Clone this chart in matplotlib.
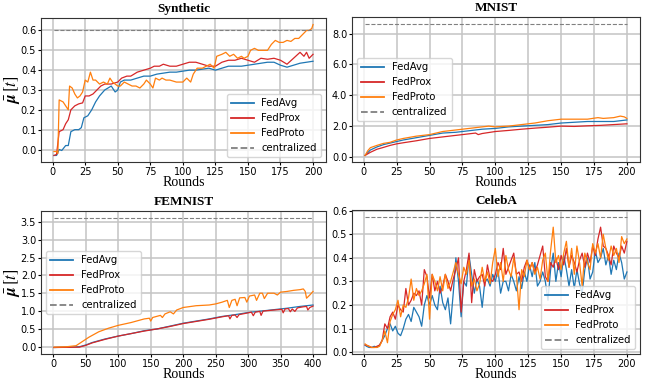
import numpy as np
import matplotlib
matplotlib.use("Agg")
import matplotlib.pyplot as plt

plt.rcParams["mathtext.fontset"] = "stix"

labels = ["FedAvg", "FedProx", "FedProto"]
colors = ["tab:blue", "tab:red", "tab:orange"]

# ---- Synthetic ----
syn_avg_x = [1, 3, 5, 7, 10, 12, 14, 17, 20, 22, 24, 27, 30, 33, 36, 40, 45, 48, 50, 52, 55, 60, 65, 70,
             75, 80, 85, 90, 95, 100, 105, 110, 115, 120, 125, 130, 135, 140, 145, 150, 155, 160, 165,
             170, 175, 180, 185, 190, 195, 200]
syn_avg_y = [-0.03, -0.03, 0.0, -0.005, 0.02, 0.02, 0.09, 0.1, 0.1, 0.11, 0.16, 0.17, 0.2, 0.24, 0.27,
             0.3, 0.32, 0.29, 0.3, 0.34, 0.35, 0.35, 0.36, 0.37, 0.37, 0.38, 0.385, 0.39, 0.39, 0.395,
             0.40, 0.40, 0.405, 0.41, 0.40, 0.41, 0.42, 0.42, 0.42, 0.425, 0.43, 0.435, 0.44, 0.44,
             0.425, 0.415, 0.425, 0.435, 0.44, 0.445]
syn_prox_x = [1, 3, 5, 8, 10, 12, 14, 17, 20, 23, 25, 28, 31, 34, 37, 40, 45, 50, 53, 57, 60, 65, 70, 75,
              78, 82, 85, 90, 95, 100, 105, 110, 115, 120, 125, 130, 135, 140, 145, 150, 155, 160, 165,
              170, 175, 180, 185, 190, 193, 195, 197, 200]
syn_prox_y = [-0.03, -0.025, 0.09, 0.1, 0.13, 0.15, 0.2, 0.22, 0.23, 0.235, 0.27, 0.27, 0.28, 0.3, 0.32,
              0.33, 0.33, 0.34, 0.36, 0.37, 0.37, 0.39, 0.40, 0.41, 0.42, 0.42, 0.43, 0.42, 0.42, 0.43,
              0.44, 0.44, 0.43, 0.42, 0.42, 0.44, 0.45, 0.45, 0.46, 0.45, 0.44, 0.46, 0.455, 0.46, 0.45,
              0.43, 0.46, 0.49, 0.47, 0.49, 0.46, 0.48]
syn_proto_x = [1, 3, 4, 5, 8, 10, 12, 13, 15, 17, 19, 21, 23, 25, 27, 29, 31, 33, 36, 39, 42, 44, 46, 48,
               50, 52, 55, 58, 61, 64, 67, 70, 72, 75, 77, 79, 82, 84, 87, 90, 95, 100, 103, 106, 108,
               111, 115, 118, 121, 124, 126, 130, 133, 136, 139, 142, 145, 147, 150, 152, 155, 158, 161,
               165, 168, 171, 174, 177, 180, 183, 186, 189, 192, 195, 197, 199, 200]
syn_proto_y = [-0.01, -0.01, -0.02, 0.25, 0.24, 0.22, 0.2, 0.32, 0.31, 0.28, 0.26, 0.27, 0.29, 0.35, 0.34,
               0.39, 0.35, 0.35, 0.33, 0.34, 0.33, 0.36, 0.34, 0.33, 0.32, 0.32, 0.34, 0.33, 0.32, 0.32,
               0.31, 0.33, 0.35, 0.33, 0.31, 0.36, 0.35, 0.36, 0.35, 0.35, 0.34, 0.34, 0.36, 0.34, 0.38,
               0.41, 0.41, 0.42, 0.43, 0.41, 0.47, 0.48, 0.49, 0.47, 0.48, 0.46, 0.47, 0.46, 0.47, 0.50,
               0.51, 0.50, 0.50, 0.50, 0.53, 0.55, 0.54, 0.54, 0.55, 0.545, 0.56, 0.56, 0.58, 0.60, 0.60,
               0.61, 0.63]
syn_central = 0.6

# ---- MNIST ----
mn_avg_x = [1, 5, 10, 15, 20, 25, 30, 40, 50, 60, 70, 80, 90, 100, 110, 120, 130, 140, 150, 160, 170,
            180, 190, 200]
mn_avg_y = [0.1, 0.45, 0.65, 0.8, 0.9, 1.0, 1.1, 1.25, 1.4, 1.55, 1.6, 1.7, 1.8, 1.85, 1.95, 2.0, 2.05,
            2.1, 2.2, 2.25, 2.3, 2.3, 2.3, 2.4]
mn_prox_x = [1, 5, 10, 15, 20, 25, 30, 40, 50, 60, 70, 80, 85, 87, 90, 100, 110, 120, 130, 140, 150, 160,
             170, 180, 190, 200]
mn_prox_y = [0.1, 0.3, 0.5, 0.62, 0.75, 0.85, 0.92, 1.05, 1.2, 1.3, 1.4, 1.5, 1.55, 1.45, 1.52, 1.65,
             1.72, 1.8, 1.87, 1.93, 2.0, 1.98, 2.02, 2.05, 2.1, 2.15]
mn_proto_x = [1, 3, 5, 10, 15, 20, 25, 30, 40, 50, 60, 70, 80, 90, 95, 100, 110, 120, 130, 140, 150, 160,
              170, 178, 182, 190, 195, 198, 200]
mn_proto_y = [0.1, 0.4, 0.6, 0.75, 0.88, 0.95, 1.1, 1.2, 1.35, 1.45, 1.65, 1.75, 1.85, 1.95, 2.0, 1.95,
              2.0, 2.1, 2.2, 2.35, 2.45, 2.45, 2.45, 2.55, 2.5, 2.55, 2.65, 2.6, 2.5]
mn_central = 8.65

# ---- FEMNIST ----
fe_avg_x = [1, 20, 40, 50, 60, 80, 100, 120, 140, 160, 180, 200, 220, 240, 260, 280, 300, 320, 340, 360,
            380, 390, 400]
fe_avg_y = [-0.02, -0.01, 0.0, 0.05, 0.12, 0.22, 0.3, 0.37, 0.45, 0.5, 0.58, 0.66, 0.72, 0.78, 0.85,
            0.9, 0.96, 1.0, 1.04, 1.08, 1.13, 1.15, 1.17]
fe_prox_x = [1, 40, 50, 60, 80, 100, 120, 140, 160, 180, 200, 220, 240, 260, 270, 272, 275, 280, 283,
             286, 300, 305, 308, 311, 318, 320, 323, 340, 352, 354, 357, 362, 365, 368, 372, 376, 385,
             390, 392, 395, 400]
fe_prox_y = [-0.02, -0.01, 0.04, 0.11, 0.21, 0.3, 0.37, 0.44, 0.5, 0.57, 0.65, 0.71, 0.77, 0.84, 0.87,
             0.78, 0.88, 0.89, 0.82, 0.9, 0.95, 0.97, 0.87, 0.97, 0.99, 0.88, 1.0, 1.03, 1.05, 0.95,
             1.06, 1.07, 0.98, 1.06, 0.99, 1.09, 1.12, 1.13, 1.03, 1.1, 1.14]
fe_proto_x = [1, 20, 35, 45, 55, 70, 85, 100, 120, 140, 148, 150, 153, 165, 168, 172, 180, 185, 190,
              200, 220, 240, 250, 260, 268, 271, 275, 280, 283, 287, 295, 298, 302, 310, 313, 318, 322,
              325, 330, 340, 345, 350, 360, 370, 380, 385, 388, 390, 395, 400]
fe_proto_y = [-0.01, 0.0, 0.03, 0.15, 0.27, 0.42, 0.52, 0.6, 0.68, 0.78, 0.8, 0.72, 0.82, 0.88, 0.82,
              0.92, 0.98, 0.92, 1.03, 1.1, 1.15, 1.17, 1.2, 1.25, 1.3, 1.1, 1.3, 1.33, 1.15, 1.37, 1.38,
              1.25, 1.42, 1.45, 1.3, 1.5, 1.5, 1.35, 1.5, 1.5, 1.45, 1.53, 1.55, 1.58, 1.6, 1.62, 1.55,
              1.36, 1.45, 1.55]
fe_central = 3.62

# ---- CelebA ----
ce_x = [1, 2, 4, 6, 8, 10, 12, 14, 16, 18, 20, 22, 24, 26, 28, 30, 32, 34, 36, 38, 40, 42, 44, 46, 48,
        50, 52, 54, 56, 58, 60, 62, 64, 66, 68, 70, 72, 74, 76, 78, 80, 82, 84, 86, 88, 90, 92, 94, 96,
        98, 100, 102, 104, 106, 108, 110, 112, 114, 116, 118, 120, 122, 124, 126, 128, 130, 132, 134,
        136, 138, 140, 142, 144, 146, 148, 150, 152, 154, 156, 158, 160, 162, 164, 166, 168, 170, 172,
        174, 176, 178, 180, 182, 184, 186, 188, 190, 192, 194, 196, 198, 200]
ce_avg = [0.03, 0.025, 0.02, 0.02, 0.025, 0.02, 0.03, 0.05, 0.07, 0.1, 0.12, 0.09, 0.11, 0.08, 0.07,
          0.1, 0.14, 0.16, 0.13, 0.19, 0.17, 0.15, 0.11, 0.2, 0.24, 0.2, 0.24, 0.2, 0.18, 0.28, 0.21,
          0.18, 0.23, 0.12, 0.25, 0.4, 0.3, 0.15, 0.3, 0.28, 0.41, 0.33, 0.25, 0.31, 0.28, 0.19, 0.3,
          0.31, 0.28, 0.33, 0.3, 0.35, 0.25, 0.3, 0.3, 0.26, 0.33, 0.3, 0.26, 0.32, 0.27, 0.34, 0.3,
          0.37, 0.32, 0.38, 0.28, 0.3, 0.34, 0.3, 0.22, 0.35, 0.42, 0.3, 0.38, 0.32, 0.41, 0.35, 0.28,
          0.35, 0.27, 0.35, 0.29, 0.25, 0.35, 0.4, 0.31, 0.34, 0.43, 0.38, 0.4, 0.44, 0.37, 0.41, 0.33,
          0.39, 0.35, 0.42, 0.38, 0.31, 0.34]
ce_prox = [0.03, 0.03, 0.025, 0.02, 0.02, 0.025, 0.03, 0.05, 0.12, 0.1, 0.15, 0.17, 0.14, 0.2, 0.18,
           0.17, 0.27, 0.2, 0.22, 0.25, 0.24, 0.26, 0.2, 0.35, 0.32, 0.23, 0.33, 0.26, 0.3, 0.25, 0.28,
           0.33, 0.3, 0.26, 0.31, 0.35, 0.4, 0.17, 0.3, 0.35, 0.42, 0.21, 0.35, 0.3, 0.32, 0.33, 0.28,
           0.37, 0.31, 0.3, 0.33, 0.38, 0.35, 0.44, 0.33, 0.36, 0.39, 0.42, 0.33, 0.34, 0.3, 0.36, 0.39,
           0.35, 0.38, 0.34, 0.37, 0.41, 0.45, 0.32, 0.3, 0.38, 0.36, 0.4, 0.35, 0.41, 0.37, 0.44, 0.36,
           0.41, 0.38, 0.34, 0.39, 0.42, 0.36, 0.42, 0.38, 0.45, 0.41, 0.48, 0.53, 0.45, 0.44, 0.41,
           0.37, 0.45, 0.42, 0.4, 0.45, 0.42, 0.47]
ce_proto = [0.035, 0.03, 0.025, 0.02, 0.02, 0.02, 0.025, 0.05, 0.09, 0.04, 0.13, 0.16, 0.18, 0.22,
            0.15, 0.2, 0.19, 0.23, 0.31, 0.22, 0.27, 0.24, 0.26, 0.29, 0.33, 0.14, 0.33, 0.3, 0.26,
            0.32, 0.26, 0.33, 0.27, 0.3, 0.34, 0.38, 0.33, 0.29, 0.36, 0.33, 0.39, 0.28, 0.31, 0.26,
            0.29, 0.36, 0.3, 0.34, 0.29, 0.38, 0.44, 0.32, 0.38, 0.3, 0.41, 0.35, 0.32, 0.4, 0.33, 0.18,
            0.35, 0.32, 0.39, 0.35, 0.38, 0.33, 0.36, 0.31, 0.39, 0.42, 0.3, 0.43, 0.53, 0.38, 0.41,
            0.35, 0.42, 0.47, 0.36, 0.44, 0.33, 0.45, 0.38, 0.28, 0.42, 0.38, 0.35, 0.46, 0.42, 0.46,
            0.4, 0.5, 0.44, 0.39, 0.45, 0.41, 0.44, 0.38, 0.49, 0.46, 0.48]
ce_central = 0.575

fig = plt.figure(figsize=(6.45, 3.81), dpi=100)

ax1 = fig.add_axes([41 / 645, 1 - 162 / 381, 285 / 645, 144 / 381])
ax2 = fig.add_axes([352 / 645, 1 - 162 / 381, 288 / 645, 145 / 381])
ax3 = fig.add_axes([41 / 645, 1 - 354 / 381, 285 / 645, 143 / 381])
ax4 = fig.add_axes([352 / 645, 1 - 354 / 381, 288 / 645, 144 / 381])

panels = [
    (ax1, "Synthetic", [(syn_avg_x, syn_avg_y), (syn_prox_x, syn_prox_y), (syn_proto_x, syn_proto_y)],
     syn_central, 200, "lower right"),
    (ax2, "MNIST", [(mn_avg_x, mn_avg_y), (mn_prox_x, mn_prox_y), (mn_proto_x, mn_proto_y)],
     mn_central, 200, "center left"),
    (ax3, "FEMNIST", [(fe_avg_x, fe_avg_y), (fe_prox_x, fe_prox_y), (fe_proto_x, fe_proto_y)],
     fe_central, 400, "center left"),
    (ax4, "CelebA", [(ce_x, ce_avg), (ce_x, ce_prox), (ce_x, ce_proto)],
     ce_central, 200, "lower right"),
]

for ax, title, series, central, n_rounds, loc in panels:
    for (x, y), lab, c in zip(series, labels, colors):
        ax.plot(x, y, color=c, lw=0.9, label=lab)
    ax.plot([1, n_rounds], [central, central], color="gray", ls="--", lw=0.8, label="centralized")
    ax.set_title(title, fontsize=9.5, fontweight="bold", family="Liberation Serif", pad=4)
    ax.set_xlabel("Rounds", fontsize=10, family="Liberation Serif", labelpad=-0.3)
    ax.grid(True, color="#c4c4c4", lw=1.1)
    ax.set_axisbelow(True)
    ax.tick_params(labelsize=7, length=2, pad=1.5)
    for s in ax.spines.values():
        s.set_color("#333333")
    leg = ax.legend(loc=loc, fontsize=7.2, framealpha=0.8, handlelength=2.3)
    for h in leg.get_lines():
        h.set_linewidth(1.3)

ax1.set_xticks(np.arange(0, 201, 25))
ax2.set_xticks(np.arange(0, 201, 25))
ax4.set_xticks(np.arange(0, 201, 25))
ax3.set_xticks(np.arange(0, 401, 50))
ax2.set_yticks(np.arange(0, 8.1, 2.0))
ax2.yaxis.set_major_formatter(matplotlib.ticker.FormatStrFormatter("%.1f"))
ax1.set_yticks(np.arange(0, 0.61, 0.1))
ax4.set_yticks(np.arange(0, 0.61, 0.1))
ax3.set_yticks(np.arange(0, 3.6, 0.5))

ylab = r"$\bar{\boldsymbol{\mu}}\,[t]$"
for ax in (ax1, ax3):
    ax.set_ylabel(ylab, fontsize=12)
    ax.yaxis.set_label_coords(-0.068, 0.5)

fig.savefig("out.png", dpi=100)
